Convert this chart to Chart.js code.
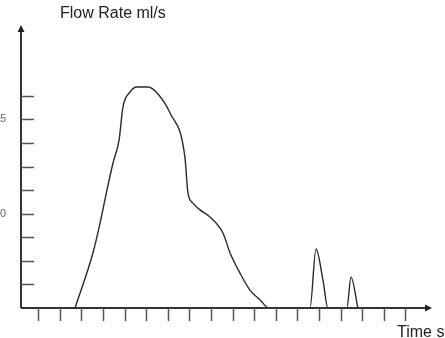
<!DOCTYPE html>
<html>
<head>
<meta charset="utf-8">
<script src="https://cdn.jsdelivr.net/npm/chart.js@4/dist/chart.umd.min.js"></script>
<style>
  html, body { margin: 0; padding: 0; background: #fff; overflow: hidden; }
  canvas { display: block; }
</style>
</head>
<body>
<canvas id="flow_chart" width="445" height="338"></canvas>
<script>
// time (s) and flow rate (ml/s)
const timeS = [2.70, 3.53, 3.86, 4.18, 4.46, 4.74, 4.92, 5.25, 5.57, 6.08, 6.50, 7.10, 7.79, 7.93, 8.16, 8.49, 8.95, 9.55, 9.88, 10.34, 10.80, 11.27, 11.68, 13.58, 13.86, 14.18, 14.41, 15.29, 15.48, 15.80];
const flowRate = [0, 2.33, 3.60, 5.00, 6.15, 7.12, 8.52, 9.16, 9.37, 9.37, 9.12, 8.27, 6.40, 4.88, 4.45, 4.16, 3.86, 3.18, 2.33, 1.48, 0.76, 0.34, 0, 0, 2.50, 1.19, 0, 0, 1.31, 0];
const xTicks = [1, 2, 3, 4, 5, 6, 7, 8, 9, 10, 11, 12, 13, 14, 15, 16, 17, 18];
const yTicks = [1, 2, 3, 4, 5, 6, 7, 8, 9];
const yTickLabels = ['', '', '', '10', '', '', '', '15', ''];

const points = timeS.map((t, i) => ({x: t, y: flowRate[i]}));

// axes, arrows, ticks and titles drawn by hand
const axesPlugin = {
    id: 'axesPlugin',
    afterDraw(chart) {
        const ctx = chart.ctx;
        const xs = chart.scales.x;
        const ys = chart.scales.y;
        const x0 = xs.getPixelForValue(xs.min);
        const x1 = xs.getPixelForValue(xs.max);
        const y0 = ys.getPixelForValue(0);
        const y1 = ys.getPixelForValue(ys.max);
        ctx.save();
        ctx.strokeStyle = '#333';
        ctx.fillStyle = '#222';
        ctx.lineWidth = 2;
        ctx.beginPath();
        ctx.moveTo(x0, y0);
        ctx.lineTo(x0, y1 + 4);
        ctx.moveTo(x0, y0);
        ctx.lineTo(x1 - 4, y0);
        ctx.stroke();
        // arrow heads
        ctx.beginPath();
        ctx.moveTo(x0, y1);
        ctx.lineTo(x0 - 3.5, y1 + 7);
        ctx.lineTo(x0 + 3.5, y1 + 7);
        ctx.closePath();
        ctx.fill();
        ctx.beginPath();
        ctx.moveTo(x1, y0);
        ctx.lineTo(x1 - 7, y0 - 3.5);
        ctx.lineTo(x1 - 7, y0 + 3.5);
        ctx.closePath();
        ctx.fill();
        // ticks
        ctx.strokeStyle = '#555';
        ctx.lineWidth = 1.5;
        ctx.beginPath();
        xTicks.forEach(v => {
            const px = Math.round(xs.getPixelForValue(v)) + 0.5;
            ctx.moveTo(px, y0);
            ctx.lineTo(px, y0 + 13);
        });
        yTicks.forEach(v => {
            const py = Math.round(ys.getPixelForValue(v)) + 0.5;
            ctx.moveTo(x0, py);
            ctx.lineTo(x0 + 13, py);
        });
        ctx.stroke();
        // y tick labels (mostly off the left edge)
        ctx.fillStyle = '#666';
        ctx.font = '11px "Liberation Sans", Arial, sans-serif';
        ctx.textAlign = 'right';
        ctx.textBaseline = 'middle';
        yTicks.forEach((v, i) => {
            if (yTickLabels[i]) ctx.fillText(yTickLabels[i], 6, ys.getPixelForValue(v));
        });
        // titles
        ctx.fillStyle = '#222';
        ctx.font = '16px "Liberation Sans", Arial, sans-serif';
        ctx.textAlign = 'left';
        ctx.textBaseline = 'alphabetic';
        ctx.fillText('Flow Rate ml/s', 60, 18);
        ctx.fillText('Time s', 397, 336.5);
        ctx.restore();
    }
};

new Chart(document.getElementById('flow_chart'), {
    type: 'line',
    data: {
        datasets: [{
            label: 'Flow Rate',
            data: points,
            borderColor: '#2a2a2a',
            borderWidth: 1.4,
            pointRadius: 0,
            fill: false,
            cubicInterpolationMode: 'monotone',
            clip: false
        }]
    },
    options: {
        responsive: false,
        animation: false,
        devicePixelRatio: 1,
        layout: {
            padding: {left: 21, top: 25, right: 13, bottom: 30}
        },
        plugins: {
            legend: {display: false},
            tooltip: {enabled: false},
            title: {display: false}
        },
        scales: {
            x: {type: 'linear', min: 0.2, max: 19.23, display: false},
            y: {type: 'linear', min: 0, max: 12, display: false}
        }
    },
    plugins: [axesPlugin]
});
</script>
</body>
</html>
